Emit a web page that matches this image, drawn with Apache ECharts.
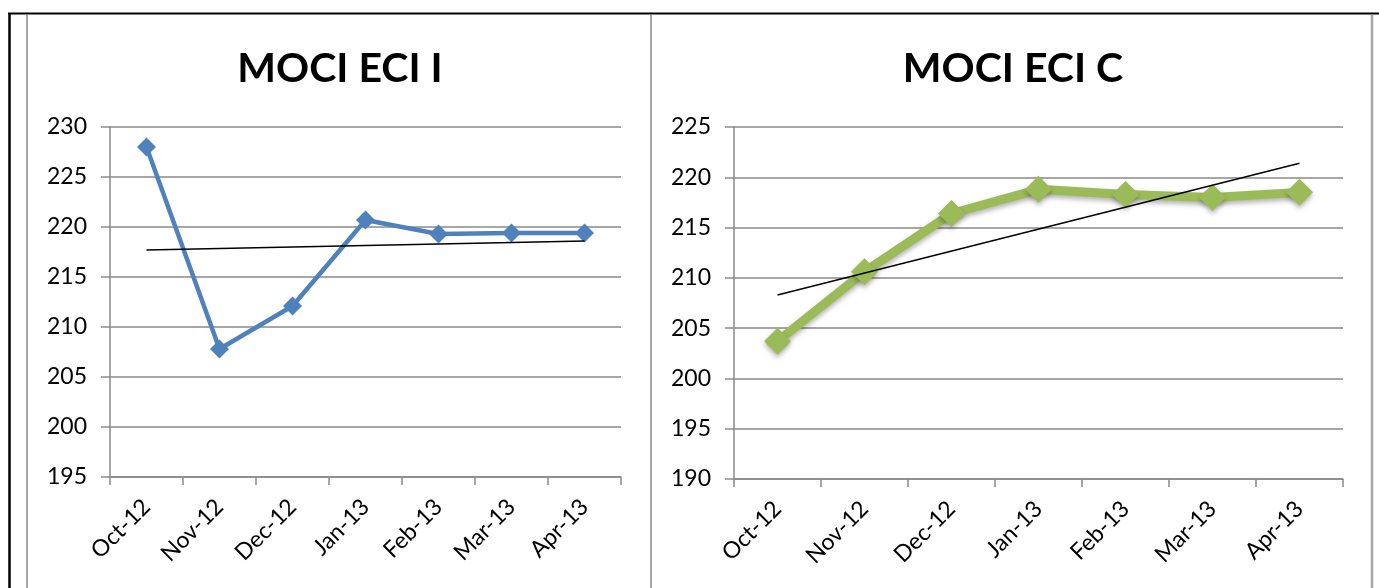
<!DOCTYPE html>
<html>
<head>
<meta charset="utf-8">
<style>
  html, body { margin: 0; padding: 0; background: #fff; }
  #chart { width: 1379px; height: 588px; }
</style>
<script src="https://cdn.jsdelivr.net/npm/echarts@6/dist/echarts.min.js"></script>
</head>
<body>
<div id="chart"></div>
<script>
// Months shared by both panels
const months = ['Oct-12', 'Nov-12', 'Dec-12', 'Jan-13', 'Feb-13', 'Mar-13', 'Apr-13'];

// MOCI ECI I (left panel)
const eciI = [228.0, 207.8, 212.1, 220.7, 219.3, 219.4, 219.4];
// trend line end values (first and last month)
const eciITrend = [217.7, 218.6];

// MOCI ECI C (right panel)
const eciC = [203.7, 210.6, 216.4, 218.8, 218.3, 218.0, 218.5];
const eciCTrend = [208.3, 221.4];

// y-axis ranges
const yRangeI = { min: 195, max: 230, step: 5 };
const yRangeC = { min: 190, max: 225, step: 5 };

const LABEL_FONT = 'Lato, "Open Sans", sans-serif';
const TITLE_FONT = 'Lato, "Open Sans", sans-serif';
const GREY = '#8a8a8a';

// trend series: only the end points are set, the line joins them
function trendData(ends) {
  return months.map((m, i) => i === 0 ? ends[0] : (i === months.length - 1 ? ends[1] : null));
}

function xAxisFor(gridIndex) {
  return {
    type: 'category', gridIndex, data: months, boundaryGap: true,
    axisLine: { lineStyle: { color: GREY, width: 1.5 } },
    axisTick: { show: true, length: 8, lineStyle: { color: GREY, width: 1.5 } },
    axisLabel: { rotate: 45, margin: 26, fontSize: 23, color: '#000', fontFamily: LABEL_FONT, interval: 0 }
  };
}
function yAxisFor(gridIndex, r) {
  return {
    type: 'value', gridIndex, min: r.min, max: r.max, interval: r.step,
    axisLine: { show: true, lineStyle: { color: GREY, width: 1.5 } },
    axisTick: { show: true, length: 9, lineStyle: { color: GREY, width: 1.5 } },
    axisLabel: { margin: 23, fontSize: 23, color: '#000', fontFamily: LABEL_FONT },
    splitLine: { lineStyle: { color: GREY, width: 1.5 } }
  };
}

const chart = echarts.init(document.getElementById('chart'), null, { renderer: 'canvas' });
chart.setOption({
  animation: false,
  backgroundColor: '#fff',
  title: [
    { text: 'MOCI ECI I', left: 335, top: 43, textAlign: 'center',
      textStyle: { fontFamily: TITLE_FONT, fontWeight: 'bold', fontSize: 41, color: '#000' } },
    { text: 'MOCI ECI C', left: 1008, top: 43, textAlign: 'center',
      textStyle: { fontFamily: TITLE_FONT, fontWeight: 'bold', fontSize: 41, color: '#000' } }
  ],
  grid: [
    { left: 110, width: 511, top: 127, height: 350 },
    { left: 734, width: 609, top: 127, height: 352 }
  ],
  xAxis: [xAxisFor(0), xAxisFor(1)],
  yAxis: [yAxisFor(0, yRangeI), yAxisFor(1, yRangeC)],
  series: [
    {
      name: 'MOCI ECI I', type: 'line', xAxisIndex: 0, yAxisIndex: 0, data: eciI,
      symbol: 'diamond', symbolSize: 19,
      lineStyle: { color: '#4F81BD', width: 4.5 },
      itemStyle: { color: '#4F81BD' }, z: 3
    },
    {
      name: 'MOCI ECI I trend', type: 'line', xAxisIndex: 0, yAxisIndex: 0,
      data: trendData(eciITrend), connectNulls: true, showSymbol: false, symbol: 'none',
      lineStyle: { color: '#000', width: 1.5 }, z: 4
    },
    {
      name: 'MOCI ECI C', type: 'line', xAxisIndex: 1, yAxisIndex: 1, data: eciC,
      symbol: 'diamond', symbolSize: 27,
      lineStyle: { color: '#9BBB59', width: 9, shadowBlur: 5, shadowOffsetY: 3, shadowColor: 'rgba(0,0,0,0.3)' },
      itemStyle: { color: '#9BBB59', shadowBlur: 5, shadowOffsetY: 3, shadowColor: 'rgba(0,0,0,0.3)' }, z: 3
    },
    {
      name: 'MOCI ECI C trend', type: 'line', xAxisIndex: 1, yAxisIndex: 1,
      data: trendData(eciCTrend), connectNulls: true, showSymbol: false, symbol: 'none',
      lineStyle: { color: '#000', width: 1.5 }, z: 4
    }
  ],
  graphic: [
    // page frame
    { type: 'line', shape: { x1: 8, y1: 13.5, x2: 1379, y2: 13.5 }, style: { stroke: '#000', lineWidth: 2 }, silent: true },
    { type: 'line', shape: { x1: 9.5, y1: 13, x2: 9.5, y2: 588 }, style: { stroke: '#000', lineWidth: 2.5 }, silent: true },
    // panel borders
    { type: 'line', shape: { x1: 27, y1: 15, x2: 27, y2: 588 }, style: { stroke: '#a6a6a6', lineWidth: 2 }, silent: true },
    { type: 'line', shape: { x1: 651, y1: 15, x2: 651, y2: 588 }, style: { stroke: '#a6a6a6', lineWidth: 2 }, silent: true },
    { type: 'line', shape: { x1: 1372, y1: 15, x2: 1372, y2: 588 }, style: { stroke: '#a6a6a6', lineWidth: 2.5 }, silent: true }
  ]
});
</script>
</body>
</html>
